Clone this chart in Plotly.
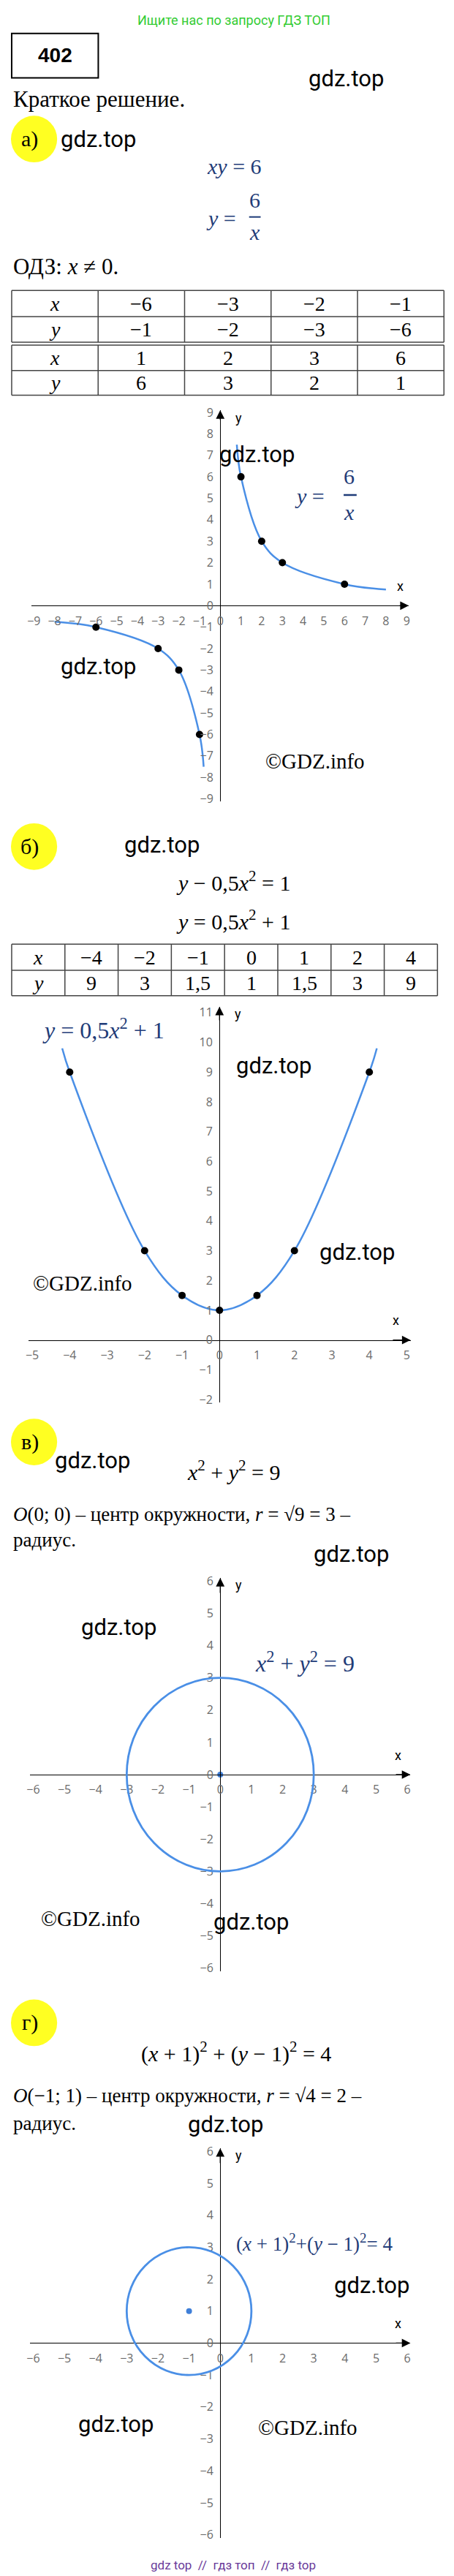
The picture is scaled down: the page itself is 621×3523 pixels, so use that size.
import plotly.graph_objects as go

W, H = 621, 3523

# ---- data ----
hyp_x_pos = [0.8, 1, 2, 3, 6, 8]
hyp_y_pos = [7.5, 6, 3, 2, 1, 0.75]
hyp_x_neg = [-8, -6, -3, -2, -1, -0.8]
hyp_y_neg = [-0.75, -1, -2, -3, -6, -7.5]
hyp_pts_x = [-6, -3, -2, -1, 1, 2, 3, 6]
hyp_pts_y = [-1, -2, -3, -6, 6, 3, 2, 1]

par_x = [-4.2, -4, -2, -1, 0, 1, 2, 4, 4.2]
par_y = [9.8, 9, 3, 1.5, 1, 1.5, 3, 9, 9.8]
par_pts_x = [-4, -2, -1, 0, 1, 2, 4]
par_pts_y = [9, 3, 1.5, 1, 1.5, 3, 9]

circ_c = (0, 0, 3)      # cx, cy, r
circ_d = (-1, 1, 2)

t1_x1 = ["−6", "−3", "−2", "−1"]
t1_y1 = ["−1", "−2", "−3", "−6"]
t1_x2 = ["1", "2", "3", "6"]
t1_y2 = ["6", "3", "2", "1"]
t2_x = ["−4", "−2", "−1", "0", "1", "2", "4"]
t2_y = ["9", "3", "1,5", "1", "1,5", "3", "9"]

ticks_a = list(range(-9, 10))
ticks_b_x = list(range(-5, 6))
ticks_b_y = list(range(-2, 12))
ticks_c = list(range(-6, 7))

CURVE = "#4a8fe6"
BLUE_TXT = "#1f3c78"
SERIF = "Liberation Serif"
MATH = "DejaVu Serif"
SANS = "Roboto"


def px(x):
    return x / W


def py(y):
    return 1 - y / H


fig = go.Figure()
ann = []
shapes = []


def note(x, y, text, size=30, color="black", family=SERIF, xanchor="center"):
    ann.append(dict(x=px(x), y=py(y), xref="paper", yref="paper", text=text,
                    showarrow=False, xanchor=xanchor, yanchor="middle",
                    font=dict(size=size, color=color, family=family)))


def hline(x0, x1, y, width=1.5, color="#444"):
    shapes.append(dict(type="line", xref="paper", yref="paper", x0=px(x0), x1=px(x1),
                       y0=py(y), y1=py(y), line=dict(color=color, width=width)))


def vline(x, y0, y1, width=1.5, color="#444"):
    shapes.append(dict(type="line", xref="paper", yref="paper", x0=px(x), x1=px(x),
                       y0=py(y0), y1=py(y1), line=dict(color=color, width=width)))


def badge(cx, cy, label):
    shapes.append(dict(type="circle", xref="paper", yref="paper", x0=px(cx - 32), x1=px(cx + 32),
                       y0=py(cy + 32), y1=py(cy - 32), fillcolor="#ffff22", line=dict(width=0),
                       layer="below"))
    note(cx - 6, cy, label, size=30)


def gdz(x, y):
    note(x, y, "gdz.top", size=31, family=SANS)


def table(x0, x1, rows, data):
    ncol = len(data[0]) + 1
    cw = (x1 - x0) / ncol
    for r in rows:
        hline(x0, x1, r)
    for i in range(ncol + 1):
        vline(x0 + i * cw, rows[0], rows[-1])
    labels = ["<i>x</i>", "<i>y</i>"]
    for ri, vals in enumerate(data):
        yc = (rows[ri] + rows[ri + 1]) / 2
        note(x0 + cw / 2, yc, labels[ri % 2], size=28, family=SERIF)
        for ci, v in enumerate(vals):
            note(x0 + cw * (ci + 1.5), yc, v, size=28, family=SERIF)


# axis setup: (name, cx, cy, ux, uy, xrange, yrange, xticks, yticks)
graphs = [
    ("", 291, 816, 28.7, 29.5, [-9.1, 9.1], [-9.1, 9.1], ticks_a, ticks_a),
    ("2", 290, 1825, 51.9, 40.9, [-5.1, 5.1], [-2.1, 11.2], ticks_b_x, ticks_b_y),
    ("3", 291, 2422, 43.2, 44.3, [-6.1, 6.1], [-6.1, 6.1], ticks_c, ticks_c),
    ("4", 291, 3203, 43.2, 43.9, [-6.1, 6.1], [-6.1, 6.1], ticks_c, ticks_c),
]
layout_axes = {}
for name, cx, cy, ux, uy, xr, yr, xt, yt in graphs:
    xd = [px(cx + xr[0] * ux), px(cx + xr[1] * ux)]
    yd = [py(cy - yr[0] * uy), py(cy - yr[1] * uy)]
    tickfont = dict(size=16, color="#6b6b6b", family="Open Sans")
    layout_axes["xaxis" + name] = dict(domain=xd, range=xr, anchor="free", position=py(cy),
                                       showline=True, linecolor="black", linewidth=1.3,
                                       showgrid=False, zeroline=False, tickvals=xt,
                                       ticks="outside", ticklen=6, tickcolor="rgba(0,0,0,0)",
                                       tickfont=tickfont, fixedrange=True)
    layout_axes["yaxis" + name] = dict(domain=yd, range=yr, anchor="free", position=px(cx),
                                       showline=True, linecolor="black", linewidth=1.3,
                                       showgrid=False, zeroline=False, tickvals=yt,
                                       ticks="outside", ticklen=6, tickcolor="rgba(0,0,0,0)",
                                       tickfont=tickfont, fixedrange=True)
    xa = "x" + name
    ya = "y" + name
    # arrows
    ann.append(dict(x=xr[1], y=0, ax=xr[1] - 0.5, ay=0, xref=xa, yref=ya, axref=xa, ayref=ya,
                    showarrow=True, arrowhead=2, arrowsize=1.8, arrowwidth=1.3, arrowcolor="black",
                    text=""))
    ann.append(dict(x=0, y=yr[1], ax=0, ay=yr[1] - 0.5, xref=xa, yref=ya, axref=xa, ayref=ya,
                    showarrow=True, arrowhead=2, arrowsize=1.8, arrowwidth=1.3, arrowcolor="black",
                    text=""))
    note(cx + (xr[1] - 0.4) * ux, cy - 27, "x", size=18, family=SANS)
    note(cx + 26, cy - yr[1] * uy + 10, "y", size=18, family=SANS)

# ---- graph a ----
for xs, ys in [(hyp_x_pos, hyp_y_pos), (hyp_x_neg, hyp_y_neg)]:
    fig.add_trace(go.Scatter(x=xs, y=ys, mode="lines", line=dict(color=CURVE, width=2.5, shape="spline"),
                             xaxis="x", yaxis="y", hoverinfo="skip"))
fig.add_trace(go.Scatter(x=hyp_pts_x, y=hyp_pts_y, mode="markers", marker=dict(color="black", size=10),
                         xaxis="x", yaxis="y"))

# ---- graph b ----
fig.add_trace(go.Scatter(x=par_x, y=par_y, mode="lines", line=dict(color=CURVE, width=2.5, shape="spline"),
                         xaxis="x2", yaxis="y2", hoverinfo="skip"))
fig.add_trace(go.Scatter(x=par_pts_x, y=par_pts_y, mode="markers", marker=dict(color="black", size=10),
                         xaxis="x2", yaxis="y2"))

# ---- graphs c, d: circles ----
for (cxv, cyv, r), xa, ya in [(circ_c, "x3", "y3"), (circ_d, "x4", "y4")]:
    shapes.append(dict(type="circle", xref=xa, yref=ya, x0=cxv - r, x1=cxv + r, y0=cyv - r, y1=cyv + r,
                       line=dict(color=CURVE, width=2.8)))
    fig.add_trace(go.Scatter(x=[cxv], y=[cyv], mode="markers", marker=dict(color="#3f7fd8", size=8),
                             xaxis=xa, yaxis=ya))

# ---- text: header ----
note(310, 12, "Ищите нас по запросу ГДЗ ТОП", size=18, color="#33cc33", family="Roboto")
shapes.append(dict(type="rect", xref="paper", yref="paper", x0=px(2), x1=px(122), y0=py(91), y1=py(30),
                   line=dict(color="black", width=2)))
note(62, 60, "<b>402</b>", size=28, family="Liberation Sans")
gdz(465, 92)
note(2, 120, "Краткое решение.", size=31, xanchor="left")

# a)
badge(33, 175, "а)")
gdz(122, 175)
note(310, 212, "<i>xy</i> = 6", size=30, color=BLUE_TXT, family=SERIF)
note(292, 284, "<i>y</i> =", size=30, color=BLUE_TXT, family=SERIF)
note(339, 259, "6", size=30, color=BLUE_TXT, family=SERIF)
hline(331, 347, 282, width=2, color=BLUE_TXT)
note(339, 303, "<i>x</i>", size=30, color=BLUE_TXT, family=SERIF)
note(2, 350, "ОДЗ: <i>x</i> ≠ 0.", size=31, xanchor="left")
table(2, 601, [383, 419, 454], [t1_x1, t1_y1])
table(2, 601, [458, 493, 527], [t1_x2, t1_y2])

gdz(342, 608)
note(415, 666, "<i>y</i> =", size=30, color=BLUE_TXT, family=SERIF)
note(470, 638, "6", size=30, color=BLUE_TXT, family=SERIF)
hline(462, 480, 664, width=2.5, color=BLUE_TXT)
note(470, 688, "<i>x</i>", size=30, color=BLUE_TXT, family=SERIF)
gdz(122, 900)
note(422, 1030, "©GDZ.info", size=29)

# b)
badge(33, 1147, "б)")
gdz(210, 1145)
note(309, 1194, "<i>y</i> − 0,5<i>x</i><sup>2</sup> = 1", size=30, family=SERIF)
note(309, 1248, "<i>y</i> = 0,5<i>x</i><sup>2</sup> + 1", size=30, family=SERIF)
table(2, 592, [1281, 1317, 1352], [t2_x, t2_y])
note(129, 1397, "<i>y</i> = 0,5<i>x</i><sup>2</sup> + 1", size=32, color=BLUE_TXT, family=SERIF)
gdz(365, 1448)
gdz(481, 1704)
note(100, 1747, "©GDZ.info", size=29)

# c)
badge(33, 1965, "в)")
gdz(114, 1991)
note(310, 2004, "<i>x</i><sup>2</sup> + <i>y</i><sup>2</sup> = 9", size=30, family=SERIF)
note(2, 2064, "<i>O</i>(0; 0) – центр окружности, <i>r</i> = √9 = 3 –", size=27, xanchor="left")
note(2, 2100, "радиус.", size=27, xanchor="left")
gdz(473, 2119)
gdz(150, 2220)
note(408, 2267, "<i>x</i><sup>2</sup> + <i>y</i><sup>2</sup> = 9", size=32, color=BLUE_TXT, family=SERIF)
note(111, 2620, "©GDZ.info", size=29)
gdz(334, 2624)

# d)
badge(33, 2763, "г)")
note(313, 2803, "(<i>x</i> + 1)<sup>2</sup> + (<i>y</i> − 1)<sup>2</sup> = 4", size=30, family=SERIF)
note(2, 2863, "<i>O</i>(−1; 1) – центр окружности, <i>r</i> = √4 = 2 –", size=27, xanchor="left")
note(2, 2901, "радиус.", size=27, xanchor="left")
gdz(298, 2903)
note(422, 3065, "(<i>x</i> + 1)<sup>2</sup>+(<i>y</i> − 1)<sup>2</sup>= 4", size=27, color=BLUE_TXT, family=SERIF)
gdz(501, 3124)
gdz(146, 3315)
note(412, 3319, "©GDZ.info", size=29)
note(309, 3508, "gdz top  //  гдз топ  //  гдз top", size=17, color="#6a3a9a", family="Roboto")

fig.update_layout(width=W, height=H, margin=dict(l=0, r=0, t=0, b=0), showlegend=False,
                  paper_bgcolor="white", plot_bgcolor="white", annotations=ann, shapes=shapes,
                  **layout_axes)

fig.write_html("out.html")
